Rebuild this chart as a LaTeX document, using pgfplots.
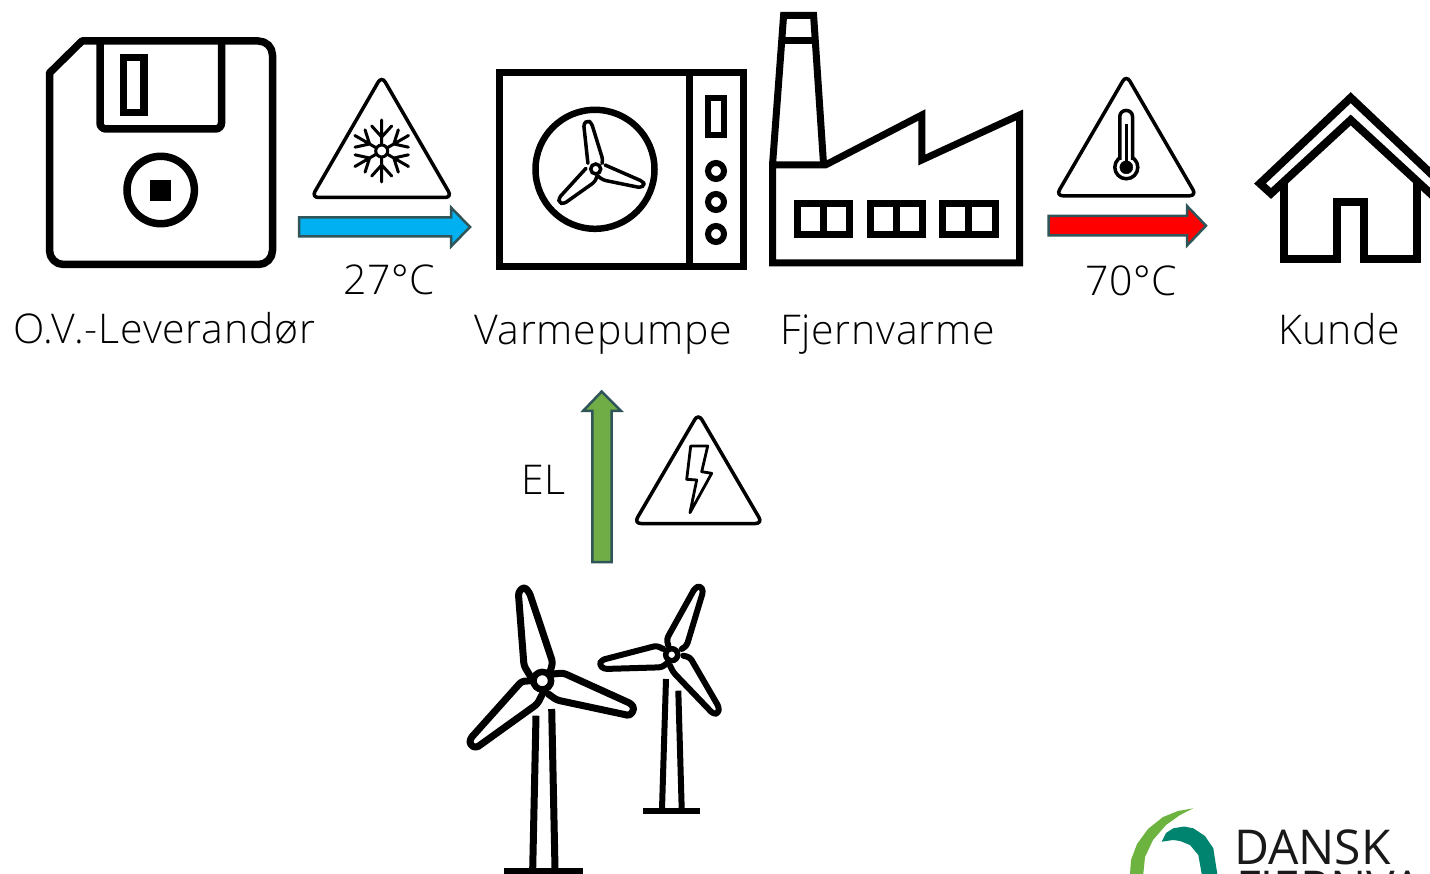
\documentclass[border=0pt]{standalone}
\usepackage{fontspec}
\setmainfont{Open Sans Light}[LetterSpace=2.0]
\newfontfamily\logofont{Open Sans}
\usepackage{pgfplots}
\pgfplotsset{compat=1.18}

\definecolor{arrowedge}{HTML}{2F5558}
\definecolor{coldblue}{HTML}{00B0F0}
\definecolor{hotred}{HTML}{FF0000}
\definecolor{elgreen}{HTML}{70AD47}
\definecolor{logogreen}{HTML}{6DB33F}
\definecolor{logoteal}{HTML}{00846F}

\tikzset{
  ln/.style={black, line width=#1, line join=miter},
  ln/.default=7pt,
  rd/.style={black, line width=#1, line join=round, line cap=round, rounded corners=3pt},
  rd/.default=7pt,
  tri/.style={black, line width=3.5pt, fill=white, rounded corners=7pt},
  harrow/.style={draw=arrowedge, line width=2.5pt, fill=#1, line join=miter},
  ring/.style n args={2}{only marks, mark=*, mark size=#1,
    mark options={draw=black, fill=white, line width=#2}},
  lbl/.style={anchor=base west, inner sep=0pt, outer sep=0pt, text=black,
    font=\fontsize{41}{48}\selectfont},
}

\begin{document}
\begin{tikzpicture}[x=1pt,y=1pt]
\useasboundingbox (0,0) rectangle (1430,874);
\begin{axis}[
  at={(0,0)}, anchor=south west,
  width=1430pt, height=874pt, scale only axis,
  xmin=0, xmax=1430, ymin=0, ymax=874, y dir=reverse,
  hide axis, clip=true, clip marker paths=true,
]
% floppy disk
\addplot[black, line width=7.5pt, line join=round] coordinates {(82,41) (258.5,41) (263.9,42.1) (268.4,45.1) (271.4,49.6) (272.5,55) (272.5,250.5) (271.4,255.9) (268.4,260.4) (263.9,263.4) (258.5,264.5) (63.5,264.5) (58.1,263.4) (53.6,260.4) (50.6,255.9) (49.5,250.5) (49.5,73)} -- cycle;
\addplot[ln=7.5pt, rounded corners=6pt] coordinates {(100,41) (100,129) (221.5,129) (221.5,41)};
\addplot[ln=7.5pt] coordinates {(123.3,57.5) (144,57.5) (144,112.5) (123.3,112.5)} -- cycle;
\addplot[ring={33.7pt}{7.5pt}] coordinates {(160.7,190)};
\addplot[fill=black, draw=none] coordinates {(150,180) (171,180) (171,201) (150,201)} -- cycle;

% snow triangle
\addplot[tri] coordinates {(381.7,76) (452,197.5) (311.5,197.5)} -- cycle;
\addplot[rd=3pt, rounded corners=0pt, unbounded coords=jump] coordinates {
  (381.7,120) (381.7,182) (nan,nan)
  (408.5,135.5) (354.9,166.5) (nan,nan)
  (408.5,166.5) (354.9,135.5) (nan,nan)
  (371.7,126) (381.7,137) (391.7,126) (nan,nan)
  (371.7,176) (381.7,165) (391.7,176) (nan,nan)
  (408.35,147.16) (393.8,144) (398.35,129.84) (nan,nan)
  (355.05,154.84) (369.6,158) (365.05,172.16) (nan,nan)
  (398.35,172.16) (393.8,158) (408.35,154.84) (nan,nan)
  (365.05,129.84) (369.6,144) (355.05,147.16)
};
\addplot[ring={6pt}{3pt}] coordinates {(381.7,151)};

% blue arrow
\addplot[harrow=coldblue] coordinates {(299,217.5) (451,217.5) (451,207.5) (470,227) (451,246.5) (451,236.5) (299,236.5)} -- cycle;

% heat pump
\addplot[ln=7pt] coordinates {(499,73) (743,73) (743,266.5) (499,266.5)} -- cycle;
\addplot[ln=6.5pt] coordinates {(689.6,73) (689.6,266.5)};
\addplot[ln=6pt] coordinates {(708,98) (724,98) (724,135) (708,135)} -- cycle;
\addplot[ring={8pt}{6pt}] coordinates {(716,171) (716,202) (716,234)};
\addplot[ring={59.5pt}{6.5pt}] coordinates {(595,169.3)};
\addplot[rd=3.5pt] coordinates {(587.9,163.3) (583.6,123.3) (587.9,120.7) (591.4,122.7) (602.9,160) (602,163.3)};
\addplot[rd=3.5pt] coordinates {(605,165) (643.2,181.7) (644.3,185) (640.7,187.7) (602.9,180) (597.9,176)};
\addplot[rd=3.5pt] coordinates {(586,168.3) (558.6,198.3) (559.3,202.7) (563.6,204) (595,181.7) (596.8,176.7)};
\addplot[ring={5pt}{3.5pt}] coordinates {(595.7,169)};

% factory
\addplot[ln=7pt] coordinates {(772.5,165) (825.4,165) (921.8,115) (921.8,160) (1019.5,115) (1019.5,263) (772.5,263)} -- cycle;
\addplot[ln=7pt] coordinates {(772.5,165) (783.6,15.5) (813.6,15.5) (823.6,165)};
\addplot[ln=7pt] coordinates {(782.5,40.8) (815,40.8)};
\addplot[ln=7pt] coordinates {(797.5,204) (849,204) (849,234.5) (797.5,234.5)} -- cycle;
\addplot[ln=7pt] coordinates {(823,204) (823,234.5)};
\addplot[ln=7pt] coordinates {(870,204) (922,204) (922,234.5) (870,234.5)} -- cycle;
\addplot[ln=7pt] coordinates {(896.5,204) (896.5,234.5)};
\addplot[ln=7pt] coordinates {(942.5,204) (995,204) (995,234.5) (942.5,234.5)} -- cycle;
\addplot[ln=7pt] coordinates {(968.75,204) (968.75,234.5)};

% thermometer triangle
\addplot[tri] coordinates {(1126.3,75) (1196.5,195.8) (1056,195.8)} -- cycle;
\addplot[ring={11.5pt}{3.5pt}] coordinates {(1126.3,167.3)};
\addplot[black, line width=3.5pt, fill=white, rounded corners=6pt] coordinates {(1119.8,160) (1119.8,110.5) (1132.5,110.5) (1132.5,160)};
\addplot[only marks, mark=*, mark size=6.5pt, mark options={draw=none, fill=black}] coordinates {(1126.3,167.3)};
\addplot[ln=3pt] coordinates {(1126.3,124) (1126.3,165)};

% red arrow
\addplot[harrow=hotred] coordinates {(1048.5,216) (1187,216) (1187,206) (1206,225.7) (1187,245.5) (1187,235.5) (1048.5,235.5)} -- cycle;

% house
\addplot[ln=8pt] coordinates {(1350.7,97.7) (1260,183.5) (1271,193.5) (1350.7,120) (1430.4,193.5) (1441.4,183.5)} -- cycle;
\addplot[ln=8pt] coordinates {(1284,182) (1284,258.7) (1336.7,258.7) (1336.7,202) (1364.2,202) (1364.2,258.7) (1416.7,258.7) (1416.7,182)};

% green arrow and lightning triangle
\addplot[harrow=elgreen] coordinates {(601.7,391.5) (621,411) (611.7,411) (611.7,562) (592.3,562) (592.3,411) (583,411)} -- cycle;
\addplot[tri] coordinates {(698.3,413.5) (762.5,523.5) (634,523.5)} -- cycle;
\addplot[black, line width=2.8pt, line join=round, fill=white] coordinates {(690.7,446) (707.7,446) (701.7,471.7) (711.7,473.3) (690,512.7) (696.7,480) (686.7,479.3)} -- cycle;

% big turbine
\addplot[rd=7pt] coordinates {(530,675.7) (524,665.7) (518.3,592.3) (524,586.7) (529.3,592.3) (552.7,662.3) (550,672.3)};
\addplot[rd=7pt] coordinates {(553.3,674) (563.3,673) (631.7,704) (634.3,709) (630,715.7) (556.7,700) (548.3,694)};
\addplot[rd=7pt] coordinates {(533.3,680.7) (521.7,681.3) (470,739) (470,744.7) (476,748) (537.3,704) (543.3,692.3)};
\addplot[ln=7pt] coordinates {(536,715.7) (532.7,869)};
\addplot[ln=7pt] coordinates {(551.7,709) (555,869)};
\addplot[ln=7pt] coordinates {(504,871) (583.3,871)};
\addplot[ring={8.8pt}{6.5pt}] coordinates {(542.3,680.7)};

% small turbine
\addplot[rd=6pt] coordinates {(668.3,645.7) (666.7,639) (695,588) (700,585.7) (703.3,590.7) (686.7,645.7) (681.7,649)};
\addplot[rd=6pt] coordinates {(663.3,649) (656.7,645.7) (601.7,660) (599.3,664.7) (604,669) (661.7,667.3) (668.3,662.3)};
\addplot[rd=6pt] coordinates {(683.3,655.7) (690,657.3) (719,707.3) (718.3,713.3) (713.3,714) (673.3,672.3) (670,665.7)};
\addplot[ln=6pt] coordinates {(666,679) (662,809)};
\addplot[ln=6pt] coordinates {(678.3,690.7) (681.7,809)};
\addplot[ln=6pt] coordinates {(643.3,811.3) (700,811.3)};
\addplot[ring={6pt}{5.5pt}] coordinates {(671.7,654.7)};

% logo
\addplot[fill=logogreen, draw=none] coordinates {(1193.3,808.3) (1178,811) (1163,817) (1148,829) (1137,844) (1131,860) (1130,874) (1143.3,874) (1145,857) (1153,840) (1166,825) (1180,815)} -- cycle;
\addplot[fill=logoteal, draw=none] coordinates {(1161.7,841.7) (1166,833) (1173.3,828.3) (1184,826.5) (1193.3,828.3) (1205,836) (1213.3,848.3) (1217.3,874) (1201.7,874) (1198.3,855) (1190,845) (1180,841) (1173.3,840)} -- cycle;

% labels
\node[lbl] at (axis cs:13,344) {O.V.-Leverandør};
\node[lbl] at (axis cs:343,295) {27°C};
\node[lbl] at (axis cs:474,345) {Varmepumpe};
\node[lbl] at (axis cs:780,345) {Fjernvarme};
\node[lbl] at (axis cs:1085,296) {70°C};
\node[lbl] at (axis cs:1278,345) {Kunde};
\node[lbl] at (axis cs:521,494.3) {EL};
\node[anchor=base west, inner sep=0pt, text=black!90, font=\logofont\fontsize{48}{56}\selectfont] at (axis cs:1234,864) {DANSK};
\node[anchor=base west, inner sep=0pt, text=black!90, font=\logofont\fontsize{48}{56}\selectfont] at (axis cs:1236,905) {FJERNVARME};
\addplot[fill=white, draw=none] coordinates {(1421,866) (1430,866) (1430,874) (1421,874)} -- cycle;
\end{axis}
\end{tikzpicture}
\end{document}
